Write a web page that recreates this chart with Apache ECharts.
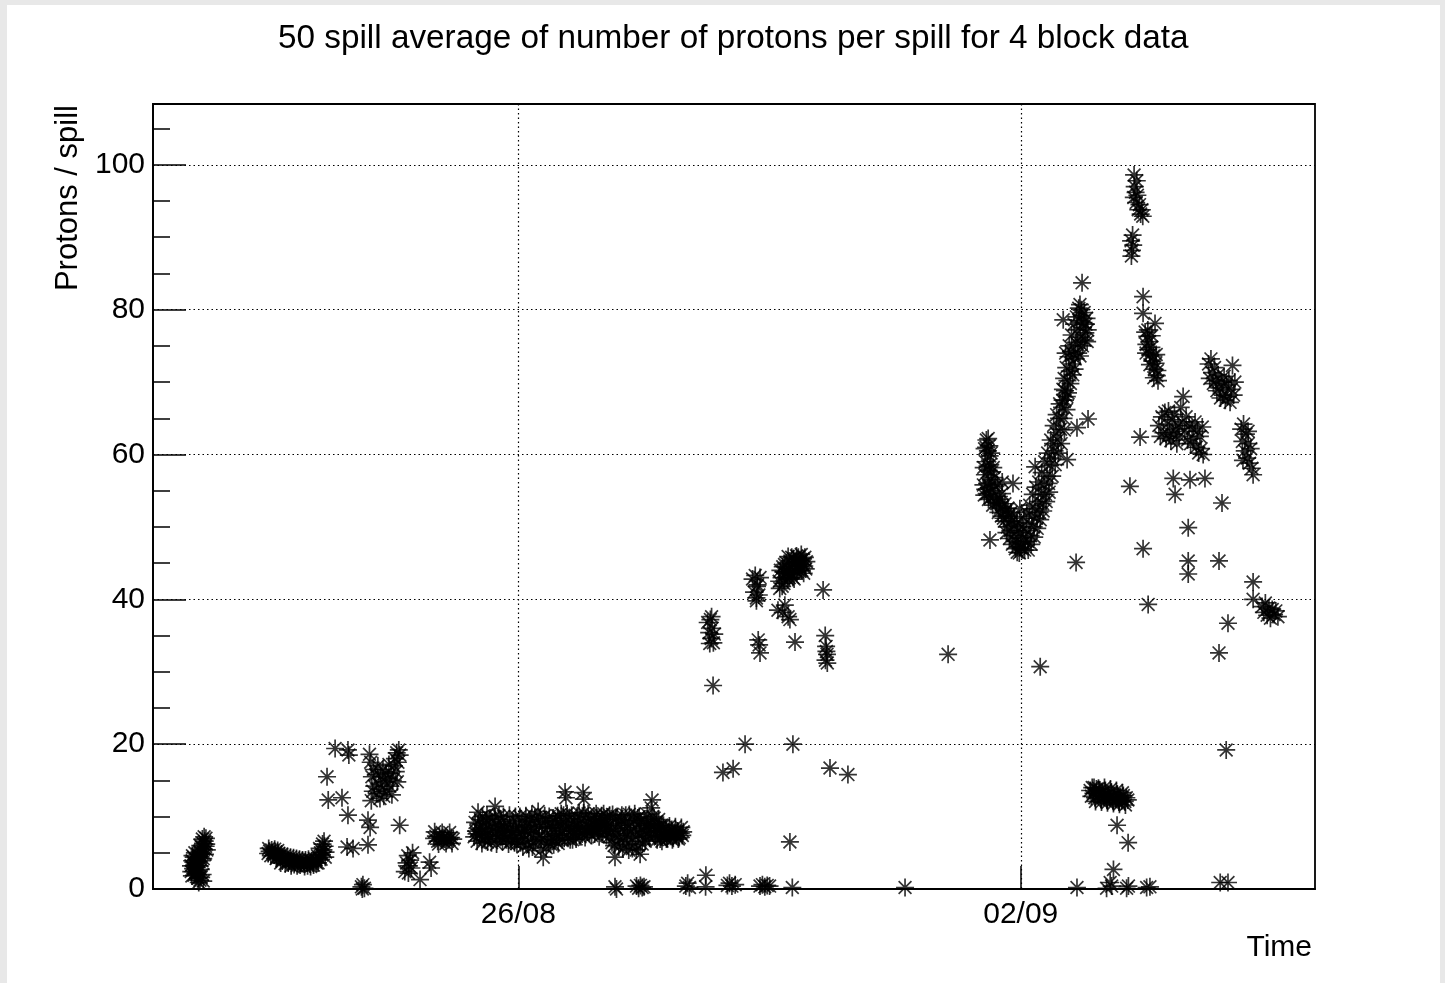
<!DOCTYPE html>
<html>
<head>
<meta charset="utf-8">
<title>Protons per spill</title>
<script src="https://cdn.jsdelivr.net/npm/echarts@6/dist/echarts.min.js"></script>
<style>
  html, body { margin: 0; padding: 0; background: #e8e8e8; }
  #main { position: absolute; left: 7px; top: 5px; width: 1433px; height: 978px; background: #fff; }
</style>
</head>
<body>
<div id="main"></div>
<script>
// 50 spill averages of protons / spill, one list per calendar day: [hour of day, value]
const aug21 = [[10.5,3.2],[10.6,2.4],[10.9,3.9],[11.2,2.8],[11.4,4.4],[11.7,3.4],[11.9,2.2],[12.1,4.1],[12.3,2.0],[12.4,3.0],[12.7,4.8],[12.9,1.5],[13.1,3.8],[13.3,5.2],[13.5,1.2],[13.7,4.5],[13.9,1.6],[14.0,5.8],[14.2,4.9],[14.5,6.3],[14.8,5.5],[15.1,6.6],[15.4,5.9],[15.6,6.2],
  [10.8,1.8],[11.0,4.6],[11.3,3.7],[11.5,1.9],[11.8,5.0],[12.0,3.2],[12.5,3.6],[12.6,2.5],[13.0,4.4],[13.1,0.9],[13.4,3.2],[13.6,6.0],[13.8,2.7],[14.1,3.9],[14.3,6.9],[14.4,2.0],[14.6,4.2],[14.6,1.1],[14.9,7.2],[15.2,4.8],[15.5,7.0],[15.8,5.4]];
const aug22 = [[12.3,4.9],[12.8,5.2],[13.2,4.6],[13.8,5.0],[14.3,4.7],[14.8,5.1],[15.0,4.2],[15.3,4.5],[15.8,4.9],[16.3,4.4],[16.8,4.8],[17.0,3.9],[17.3,4.2],[17.8,4.6],[18.3,4.1],[18.8,4.5],[19.0,3.6],[19.3,3.9],[19.8,4.4],[20.3,3.8],[20.8,4.3],[21.0,3.4],[21.3,3.7],[21.8,4.2],[22.3,3.6],[22.8,4.1],[23.3,3.6],[23.8,4.0],
  [12.5,5.6],[13.5,5.4],[14.5,5.5],[15.5,5.3],[16.5,3.6],[18.0,3.5],[20.0,3.2],[22.0,3.2],[23.0,3.3]];
const aug23 = [[0.3,3.5],[0.8,4.0],[1.3,3.6],[1.8,4.1],[2.3,3.5],[2.8,3.9],[3.3,3.7],[3.8,4.2],[4.3,4.0],[4.5,3.6],[4.8,4.6],[5.3,4.3],[5.8,5.0],[6.3,4.7],[6.5,6.2],[6.8,5.4],[7.2,5.9],[7.5,5.1],
  [0.5,3.1],[1.5,3.2],[2.5,3.1],[3.5,3.3],[5.0,3.6],[5.5,5.6],[6.0,4.1],[7.0,6.6],[7.4,4.4],
  [8.0,15.5],[8.4,12.3],[10.7,19.4],[13.0,12.6],[15.0,19.2],[15.3,18.5],[15.0,10.2],[14.7,5.8],[16.7,5.6],[19.5,0.3],[20.0,0.6],[20.5,0.1],[19.8,0.0],
  [21.7,6.1],[21.7,9.5],[22.4,8.5],[22.2,18.6],[22.6,17.5],[23.0,15.5],[23.3,13.5],[23.6,16.5],[22.8,12.2],[23.8,14.2]];
const aug24 = [[0.3,15.8],[0.6,13.2],[1.0,17.0],[1.3,14.5],[1.7,12.5],[2.0,15.5],[2.4,13.8],[2.7,16.5],[3.0,12.8],[3.4,14.8],[3.7,16.0],[4.0,13.5],[4.4,15.3],[4.7,17.2],[5.0,14.2],[5.4,16.0],[5.7,13.0],[6.0,15.0],[6.4,17.0],[6.7,18.0],[7.0,16.2],[7.3,18.8],[7.5,14.8],[7.7,17.5],[8.0,19.2],[8.3,18.5],[8.3,8.8],
  [10.0,2.4],[10.6,3.6],[11.0,4.6],[11.2,2.2],[11.4,3.2],[11.8,4.0],[12.2,2.9],[12.6,5.0],[15.1,1.3],[18.3,3.7],[18.8,2.9],
  [19.8,7.0],[20.0,7.9],[20.4,7.3],[21.0,6.6],[21.3,6.2],[21.6,7.2],[22.2,6.8],[22.5,7.8],[22.8,7.1],[23.4,6.9],[23.8,6.3]];
const aug25 = [[0.2,7.0],[0.8,6.8],[1.0,7.8],[1.5,7.1],[1.8,6.3],[2.2,6.9],
  [9.2,7.2],[9.8,8.0],[10.2,6.6],[10.5,10.6],[10.6,9.0],[11.0,7.5],[11.8,6.3],[12.3,8.5],[12.8,7.2],[13.2,9.5],[13.7,6.5],[14.2,8.2],[14.7,7.0],[15.2,9.3],[16.2,11.4],[16.2,7.8],[16.7,6.2],[17.2,8.8],[17.7,7.3],[18.2,9.6],[18.7,6.6],[19.2,8.0],[19.7,7.0],[20.2,9.1],[20.7,6.2],[21.2,8.4],[21.7,7.4],[22.2,9.3],[22.7,6.4],[23.2,8.0],[23.7,7.1],
  [9.5,9.2],[10.0,7.6],[10.9,8.2],[11.3,9.6],[11.6,7.9],[12.0,10.0],[12.6,6.8],[13.0,8.3],[13.5,10.2],[14.0,7.5],[14.5,9.8],[15.0,6.4],[15.5,8.4],[16.0,10.0],[16.5,8.9],[17.0,7.0],[17.5,10.1],[18.0,8.2],[18.5,7.8],[19.0,10.0],[19.5,8.6],[20.0,6.8],[20.5,8.0],[21.0,10.2],[21.5,6.6],[22.0,7.8],[22.5,8.6],[23.0,10.0],[23.5,6.3]];
const aug26 = [[0.2,8.6],[0.7,6.4],[1.2,9.4],[1.7,7.5],[2.2,6.9],[2.7,8.8],[3.2,6.2],[3.7,9.6],[4.2,7.7],[4.7,5.8],[5.2,8.4],[5.7,6.7],[6.2,9.2],[6.6,10.7],[7.0,7.2],[7.5,5.3],[8.0,8.6],[8.3,4.4],[8.6,6.8],[9.1,9.4],[9.6,7.6],[10.1,6.4],[10.6,8.9],[11.1,7.2],[11.6,9.8],[12.1,6.7],[12.6,8.4],[13.1,10.1],[13.6,7.4],[14.1,9.0],[14.6,6.8],[15.1,10.2],[15.6,13.4],[15.9,12.6],[16.1,8.2],[16.6,7.0],[17.1,9.7],[17.6,8.0],[18.1,6.8],[18.6,9.3],[19.1,7.6],[19.6,10.0],[20.1,8.4],[20.6,7.2],[21.1,9.6],[21.6,13.3],[21.9,12.4],[22.1,8.2],[22.6,9.9],[23.1,7.9],[23.6,9.2],
  [0.5,10.0],[1.0,7.8],[1.5,5.8],[2.0,8.2],[2.5,10.1],[3.0,7.9],[3.5,5.6],[4.0,8.9],[4.5,10.3],[5.0,6.6],[5.5,9.8],[6.0,7.8],[6.8,8.6],[7.3,9.9],[7.8,6.9],[8.8,10.1],[9.3,5.7],[9.8,8.5],[10.3,10.0],[10.8,6.2],[11.3,8.4],[11.8,6.1],[12.3,9.4],[12.8,7.4],[13.3,6.3],[13.8,8.8],[14.3,10.4],[14.8,8.0],[15.3,7.0],[15.8,9.2],[16.3,10.4],[16.8,8.6],[17.3,6.8],[17.8,10.2],[18.3,7.7],[18.8,8.6],[19.3,6.9],[19.8,8.8],[20.3,10.5],[20.8,8.6],[21.3,7.6],[21.8,10.5],[22.3,7.1],[22.8,8.3],[23.3,10.4],[23.8,7.7]];
const aug27 = [[0.3,9.5],[0.8,8.2],[1.3,10.0],[1.8,8.8],[2.3,9.8],[2.8,8.0],[3.3,9.2],[3.8,10.1],[4.3,8.5],[4.8,9.6],[5.3,8.0],[5.8,9.9],[6.3,7.2],[6.8,9.0],[7.3,6.4],[7.8,8.3],[8.3,4.4],[8.6,9.7],[9.1,7.6],[9.6,5.8],[10.1,8.8],[10.6,10.2],[11.1,7.0],[11.6,9.1],[12.1,6.2],[12.6,8.5],[13.1,10.3],[13.6,7.8],[14.1,5.6],[14.6,9.4],[15.1,7.2],[15.6,8.8],[16.1,6.0],[16.4,10.0],[16.7,4.8],[17.1,8.4],[17.6,7.1],[18.1,9.6],[18.6,8.0],[19.1,10.3],[19.6,7.3],[20.1,9.0],[20.4,11.2],[20.7,12.3],[21.2,8.6],[21.7,7.4],[22.2,9.3],[22.7,7.8],[23.2,8.5],[23.7,7.2],
  [0.5,7.4],[1.0,9.0],[1.5,7.6],[2.0,10.4],[2.5,8.6],[3.0,7.2],[3.5,8.6],[4.0,7.6],[4.5,10.4],[5.0,8.8],[5.5,7.4],[6.0,8.6],[6.5,10.2],[7.0,8.0],[7.5,10.3],[8.0,6.0],[8.5,7.4],[9.0,10.0],[9.4,8.8],[9.9,6.8],[10.4,9.6],[10.9,5.6],[11.4,8.0],[11.9,10.2],[12.4,7.4],[12.9,5.4],[13.4,9.2],[13.9,6.6],[14.4,8.2],[14.9,10.4],[15.4,5.4],[15.9,9.8],[16.4,7.6],[16.9,9.4],[17.4,6.2],[17.9,8.0],[18.4,6.6],[18.9,8.8],[19.4,9.0],[19.9,7.0],[20.4,8.2],[20.9,10.0],[21.4,9.8],[21.9,8.4],[22.4,6.8],[22.9,9.6],[23.4,6.9],[23.9,8.8],
  [8.3,0.3],[8.8,0.0],[15.5,0.4],[16.2,0.1],[16.8,0.5],[17.4,0.2],[18.0,0.3]];
const aug28 = [[0.3,8.1],[0.8,7.2],[1.3,8.3],[1.8,7.0],[2.3,7.9],[2.8,7.3],[3.3,8.2],[3.8,7.0],[4.3,7.8],[4.8,7.4],[5.3,8.0],[5.8,7.1],[6.3,7.7],[6.8,7.4],[7.1,7.9],
  [0.0,6.6],[0.5,8.8],[1.5,6.9],[2.5,8.7],[3.5,6.8],[4.5,8.6],[5.5,6.9],[6.5,8.5],
  [8.0,0.4],[8.6,0.8],[9.2,0.2],[14.6,0.3],[14.7,1.9],
  [15.3,36.8],[15.8,35.4],[16.0,33.9],[16.2,37.2],[16.5,34.6],[16.6,37.6],[16.8,36.0],[17.2,34.0],[17.5,35.2],[17.1,28.1],
  [20.4,16.1],[23.8,16.6],[21.9,0.5],[22.6,0.8],[23.4,0.4]];
const aug29 = [[0.5,0.6],[3.8,20.0],
  [6.3,42.8],[6.8,41.0],[7.2,43.3],[7.6,40.2],[8.0,42.0],[8.4,40.6],[8.8,43.0],[7.8,41.8],[7.6,39.8],[8.2,34.4],[8.5,33.7],[8.8,32.6],
  [8.8,0.4],[9.6,0.6],[10.4,0.3],[11.2,0.5],[12.0,0.4],
  [15.2,42.5],[15.6,44.0],[16.0,43.0],[16.4,44.5],[16.8,42.2],[17.2,43.6],[17.6,45.0],[18.0,42.8],[18.4,44.2],[18.8,45.3],[19.2,43.5],[19.6,44.8],[20.0,45.6],[20.4,44.0],[20.8,45.2],[21.2,43.8],[21.6,45.8],[22.0,44.5],[22.4,45.3],[22.8,44.0],[23.2,45.6],[23.6,44.6],
  [15.4,41.5],[16.2,41.8],[16.6,43.8],[17.0,44.8],[17.8,43.8],[18.2,45.9],[18.6,43.0],[19.4,45.8],[19.8,43.0],[20.2,42.8],[21.0,46.0],[21.4,44.6],[21.8,44.0],[22.6,46.2],[23.0,44.8],[23.4,43.6],[23.8,45.8],
  [14.8,38.5],[16.4,38.2],[17.1,39.2],[18.8,37.2],[18.2,37.6],[20.5,34.1],[19.8,20.0],[18.8,6.5],[19.6,0.2]];
const aug30 = [[0.1,44.2],[0.3,45.2],[5.9,41.3],[6.6,35.0],[6.9,33.5],[7.2,32.4],[6.7,31.6],[7.3,31.2],[7.0,32.8],[8.2,16.7],[14.2,15.8]];
const aug31 = [[9.3,0.2],[23.7,32.4]];
const sep01 = [[12.5,62.0],[13.0,60.5],[13.5,61.2],[12.2,59.0],[13.8,58.6],[12.0,57.2],[12.8,56.0],[13.3,57.8],[11.5,55.8],[14.0,56.5],[14.5,55.0],[11.8,54.4],[13.2,53.8],[15.0,54.2],[15.5,55.6],[16.0,53.2],[16.5,52.0],[17.0,53.8],[17.5,51.5],[17.8,56.2],[18.0,52.8],[18.5,50.8],[19.0,52.2],[19.5,50.0],[20.0,51.5],[20.5,49.5],[21.0,50.8],[21.4,56.0],[21.5,48.8],[22.0,50.2],[22.5,48.0],[23.0,49.5],[23.5,46.4],[23.7,52.5],[13.7,48.2],
  [11.6,58.2],[11.9,60.8],[12.1,55.2],[12.4,61.0],[12.6,54.6],[12.9,58.4],[13.1,62.2],[13.4,55.4],[13.6,59.8],[13.9,54.0],[14.1,60.2],[14.3,57.6],[14.6,53.0],[14.8,58.2],[15.2,56.8],[15.7,53.4],[16.2,55.8],[16.7,54.2],[17.2,52.6],[17.7,54.6],[18.2,51.2],[18.7,53.2],[19.2,49.2],[19.7,52.6],[20.2,48.4],[20.7,52.0],[21.2,47.6],[21.7,51.4],[22.2,47.0],[22.7,50.6],[22.8,46.5],[23.2,47.8],[23.8,49.2],[23.9,47.2]];
const sep02 = [[0.3,47.0],[0.8,48.5],[1.3,46.8],[1.8,49.5],[2.3,48.0],[2.8,50.5],[3.3,48.8],[3.8,51.5],[4.3,50.0],[4.8,52.5],[4.8,58.3],[5.3,51.2],[5.8,53.5],[6.3,52.0],[6.8,54.5],[7.3,53.2],[7.8,55.8],[8.3,54.5],[8.8,57.0],[9.3,56.0],[9.8,58.5],
  [10.3,59.5],[10.8,61.5],[11.3,60.5],[11.8,63.0],[12.3,62.0],[12.8,65.0],[13.3,63.5],[13.8,66.5],[14.3,65.0],[14.8,67.5],[15.3,66.2],[15.8,68.5],
  [14.0,67.5],[14.5,70.5],[14.8,68.8],[15.2,72.0],[15.6,70.2],[16.0,73.5],[16.4,71.5],[16.8,74.2],[17.2,72.5],[17.6,73.8],[18.0,71.8],[18.4,75.5],[18.8,77.2],[19.2,74.0],[19.6,78.5],[20.0,76.2],[20.4,79.2],[20.8,77.5],[21.2,79.6],[21.6,76.8],[22.0,78.8],[22.4,77.2],[19.8,80.7],[20.5,83.7],[14.2,78.6],
  [0.5,50.0],[1.0,51.2],[1.5,48.0],[2.0,52.0],[2.5,46.8],[3.0,53.0],[3.5,47.6],[4.0,54.5],[4.5,48.6],[5.0,55.5],[5.5,49.8],[6.0,56.2],[6.5,51.0],[7.0,57.5],[7.5,52.2],[8.0,59.0],[8.5,53.5],[9.0,60.2],[9.5,54.8],[10.0,62.0],[10.5,57.0],[11.0,64.0],[11.5,58.6],[12.0,65.5],[12.5,60.2],[13.0,67.0],[13.5,61.5],[14.1,69.0],[14.6,63.4],[15.0,74.0],[15.4,68.0],[16.2,75.0],[16.6,69.8],[17.0,76.5],[17.4,71.0],[17.8,78.0],[18.2,73.2],[18.6,79.0],[19.0,75.2],[19.4,80.2],[19.8,73.6],[20.2,80.0],[20.6,75.0],[21.0,78.2],[21.4,75.8],[21.8,78.0],[22.2,75.6],
  [22.5,64.9],[18.8,63.7],[15.5,59.3],[6.5,30.7],[18.5,45.1],[18.8,0.2],
  [23.2,13.6],[23.6,12.8],[23.9,14.0]];
const sep03 = [[0.3,13.2],[0.8,12.6],[1.3,13.8],[1.8,12.9],[2.3,13.5],[2.8,12.4],[3.3,13.3],[3.8,12.7],[4.3,13.6],[4.8,12.3],[5.3,13.1],[5.8,12.6],[6.3,13.4],[6.8,12.2],[7.3,12.9],[7.8,12.4],[8.3,13.1],[8.8,12.0],[9.3,12.7],[9.8,12.2],[10.3,12.9],[10.8,12.1],[11.3,12.6],[11.8,12.3],
  [0.5,14.0],[2.0,13.9],[4.0,14.0],[6.0,13.8],[8.0,13.6],[10.0,13.3],[1.0,12.1],[3.0,12.0],[5.0,11.9],[7.0,11.8],[9.0,11.7],[11.0,11.6],
  [8.2,8.8],[11.9,6.4],[7.0,2.7],[5.9,0.9],[4.7,0.1],[6.4,0.4],[11.4,0.1],[12.0,0.4],[18.1,0.2],[19.2,0.3],
  [12.9,89.5],[13.2,88.2],[13.4,90.3],[13.0,87.4],[13.6,88.9],
  [13.9,98.6],[14.1,97.0],[14.4,96.2],[13.8,95.5],[14.6,94.8],[14.8,97.8],[15.0,95.8],[15.3,93.8],[15.7,94.5],[16.1,93.2],[16.5,93.8],[16.8,92.9],
  [16.9,81.8],[16.9,79.5],[17.6,76.9],[18.0,75.2],[18.3,76.3],[18.6,74.5],[19.0,75.6],[19.3,73.8],[19.7,74.8],[20.0,72.9],[20.4,73.6],[20.7,71.8],[21.1,72.6],[20.9,78.1],[21.5,70.9],[21.9,70.2],
  [17.9,74.0],[18.5,77.2],[19.2,72.4],[19.8,76.4],[20.5,70.6],[21.3,73.8],[21.7,71.6],
  [15.9,62.4],[12.5,55.6],[16.9,47.0],[18.6,39.3],
  [22.2,64.0],[22.7,62.5],[23.2,65.2],[23.7,63.0]];
const sep04 = [[0.2,65.8],[0.6,62.2],[1.0,64.2],[1.4,66.0],[1.8,63.0],[2.2,61.9],[2.6,64.8],[3.0,62.8],[3.4,65.5],[3.8,63.5],[4.2,61.5],[4.6,64.0],[5.0,62.5],[5.5,66.5],[6.0,64.5],[6.3,68.0],[6.8,63.2],[7.3,65.2],[7.8,62.0],[8.3,64.0],[8.8,61.5],[9.3,63.6],[9.8,62.2],[10.3,64.5],[10.7,61.0],[11.1,63.2],[11.5,60.2],[11.9,62.5],[12.3,60.8],[12.7,63.8],[13.0,60.0],
  [14.8,72.5],[15.2,70.5],[15.6,73.2],[16.0,71.3],[16.4,69.8],[16.8,72.0],[17.2,70.2],[17.6,68.8],[18.0,71.0],[18.4,69.2],[18.8,67.8],[19.2,70.0],[19.6,68.2],[20.0,70.8],[20.4,67.5],[20.8,69.6],[21.2,68.0],[21.6,70.2],[22.0,67.2],[22.4,69.0],[22.8,72.3],[23.2,68.2],[23.6,70.0],
  [3.0,56.7],[3.6,54.5],[8.6,56.5],[13.6,56.7],[19.3,53.3],[8.0,49.9],[8.0,45.3],[8.0,43.5],[18.3,45.3],[21.3,36.7],[18.3,32.6],[20.7,19.2],[18.7,0.9],[21.3,0.9]];
const sep05 = [[1.7,63.5],[2.1,61.8],[2.3,59.2],[2.5,64.2],[2.9,60.5],[3.3,62.8],[3.7,59.5],[4.0,63.2],[4.1,61.5],[4.5,58.8],[4.9,60.8],[5.3,58.1],[5.7,57.2],[5.7,42.4],[5.7,40.0],
  [8.7,39.0],[9.3,38.2],[9.8,39.5],[10.4,37.8],[11.0,38.8],[11.5,37.4],[12.1,38.6],[12.7,37.9],[13.3,38.4],[14.0,37.6]];

// [month, day, list]
const runDays = [[8,21,aug21],[8,22,aug22],[8,23,aug23],[8,24,aug24],[8,25,aug25],[8,26,aug26],[8,27,aug27],[8,28,aug28],[8,29,aug29],[8,30,aug30],[8,31,aug31],[9,1,sep01],[9,2,sep02],[9,3,sep03],[9,4,sep04],[9,5,sep05]];

const dateTicks = [[8,26],[9,2]];
const yMajor = [0,20,40,60,80,100];
const yMinor = [5,10,15,25,30,35,45,50,55,65,70,75,85,90,95,105];

function stamp(month, day, hour) {
    return Date.UTC(2018, month - 1, day) + hour * 3600000;
}

let points = [];
for (const [m, d, list] of runDays) {
    for (const [h, v] of list) {
        points.push([stamp(m, d, h), v]);
    }
}
const tickStamps = dateTicks.map(([m, d]) => stamp(m, d, 0));

const font = '"Liberation Sans", Arial, Helvetica, sans-serif';
const star = 'path://M9 0L9 18M0 9L18 9M2.6 2.6L15.4 15.4M2.6 15.4L15.4 2.6';
const dotted = { type: [1.5, 3], color: '#000', width: 1.2 };

let myChart = echarts.init(document.getElementById('main'));

let option = {
    animation: false,
    backgroundColor: '#fff',
    title: {
        text: '50 spill average of number of protons per spill for 4 block data',
        left: 266,
        top: 12,
        textStyle: { fontFamily: font, fontSize: 33.3, fontWeight: 'normal', color: '#000' }
    },
    grid: {
        left: 146, top: 99, width: 1162, height: 785,
        show: true, borderColor: '#000', borderWidth: 1.8, backgroundColor: 'transparent'
    },
    xAxis: {
        type: 'value',
        min: stamp(8, 20, 21.8),
        max: stamp(9, 6, 2.4),
        axisLine: { lineStyle: { color: '#000', width: 1.8 } },
        axisTick: { inside: true, length: 23, customValues: tickStamps, lineStyle: { color: '#000', width: 1.5 } },
        axisLabel: {
            customValues: tickStamps,
            fontFamily: font, fontSize: 30, color: '#000', margin: 11,
            formatter: function (val) {
                let d = new Date(val);
                let dd = String(d.getUTCDate()).padStart(2, '0');
                let mm = String(d.getUTCMonth() + 1).padStart(2, '0');
                return dd + '/' + mm;
            }
        },
        splitLine: { show: true, lineStyle: dotted }
    },
    yAxis: [{
        type: 'value', min: 0, max: 108.4,
        axisLine: { show: true, lineStyle: { color: '#000', width: 1.8 } },
        axisTick: { inside: true, length: 33, customValues: yMajor, lineStyle: { color: '#000', width: 1.5 } },
        axisLabel: { customValues: yMajor, fontFamily: font, fontSize: 30, color: '#000', margin: 8 },
        splitLine: { show: true, lineStyle: dotted }
    }, {
        type: 'value', min: 0, max: 108.4, position: 'left', offset: 0,
        axisLine: { show: false },
        axisTick: { show: true, inside: true, length: 17, customValues: yMinor, lineStyle: { color: '#000', width: 1.5 } },
        axisLabel: { show: false },
        splitLine: { show: false }
    }],
    graphic: [{
        type: 'text', x: 61, y: 100, rotation: Math.PI / 2,
        style: { text: 'Protons / spill', fontFamily: font, fontSize: 31, fill: '#000', align: 'right', verticalAlign: 'middle' }
    }, {
        type: 'text', x: 1305, y: 943,
        style: { text: 'Time', fontFamily: font, fontSize: 30, fill: '#000', align: 'right', verticalAlign: 'middle' }
    }],
    series: [{
        type: 'scatter',
        data: points,
        symbol: star,
        symbolSize: 18,
        symbolKeepAspect: true,
        clip: false,
        silent: true,
        itemStyle: { color: '#000', borderColor: '#000', borderWidth: 1.7 }
    }]
};
myChart.setOption(option);
</script>
</body>
</html>
